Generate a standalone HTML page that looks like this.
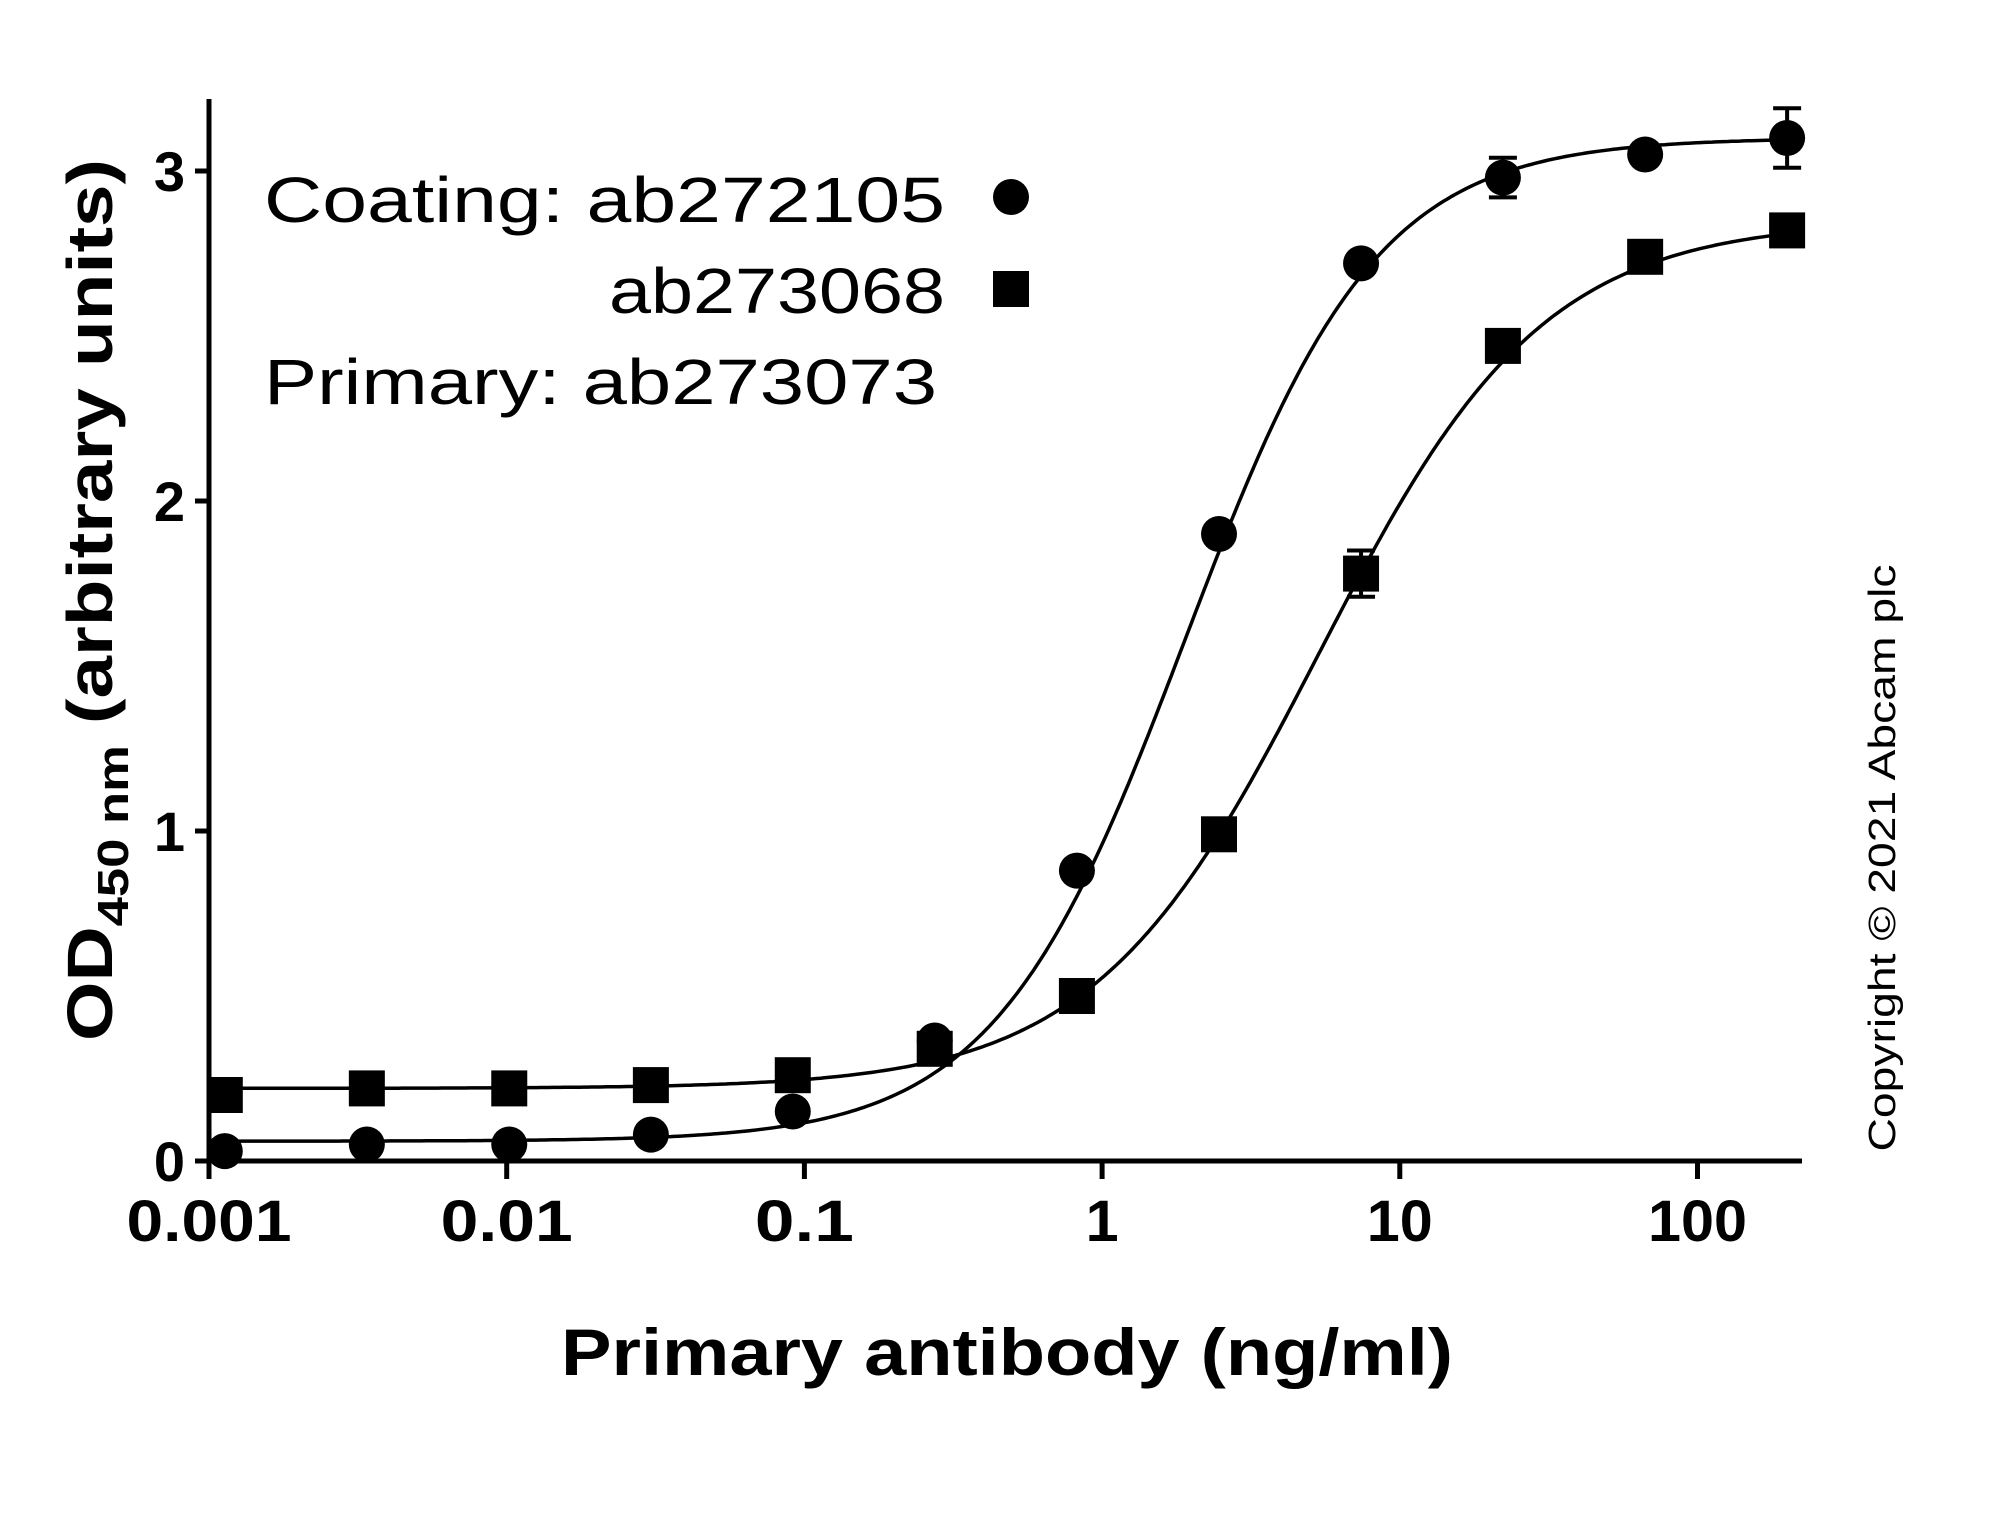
<!DOCTYPE html>
<html><head><meta charset="utf-8"><style>
html,body{margin:0;padding:0;background:#fff;}
svg{display:block;font-family:"Liberation Sans",sans-serif;}
</style></head><body>
<svg id="chart" width="1990" height="1514" viewBox="0 0 1990 1514" xmlns="http://www.w3.org/2000/svg">
<g id="axes"></g>
<g id="curves"></g>
<g id="marks"></g>
<text x="1007" y="1375" font-size="66" font-weight="bold" text-anchor="middle" textLength="892" lengthAdjust="spacingAndGlyphs">Primary antibody (ng/ml)</text>
<text transform="translate(112,600) rotate(-90)" font-size="64" font-weight="bold" text-anchor="middle" textLength="882" lengthAdjust="spacingAndGlyphs">OD<tspan font-size="44" dy="16">450 nm</tspan><tspan dy="-16"> (arbitrary units)</tspan></text>
<text transform="translate(1895,858) rotate(-90)" font-size="38" text-anchor="middle" textLength="587" lengthAdjust="spacingAndGlyphs">Copyright © 2021 Abcam plc</text>
<g>
<text x="264" y="222" font-size="64" textLength="681" lengthAdjust="spacingAndGlyphs">Coating: ab272105</text>
<circle cx="1011" cy="197" r="18" fill="#000"/>
<text x="609" y="313" font-size="64" textLength="336" lengthAdjust="spacingAndGlyphs">ab273068</text>
<rect x="993" y="271" width="36" height="36" fill="#000"/>
<text x="264" y="404" font-size="64" textLength="673" lengthAdjust="spacingAndGlyphs">Primary:  ab273073</text>
</g>
</svg>
<script>
const concentrations=[0.00113,0.00339,0.0102,0.0305,0.0914,0.274,0.823,2.47,7.41,22.2,66.7,200];
const circleValues=[0.03,0.05,0.05,0.08,0.15,0.365,0.88,1.9,2.72,2.98,3.05,3.1];
const squareValues=[0.2,0.22,0.22,0.23,0.26,0.34,0.5,0.99,1.78,2.47,2.74,2.82];
const circleErrors=[0,0,0,0,0,0,0,0,0,0.06,0,0.09];
const squareErrors=[0,0,0,0,0,0,0,0,0.07,0,0,0];
const circleFit=[0.06,3.1,1.9,1.35];
const squareFit=[0.22,2.85,5.33,1.15];
const xTicks=[0.001,0.01,0.1,1,10,100];
const xTickLabels=["0.001","0.01","0.1","1","10","100"];
const yTicks=[0,1,2,3];
const yTickLabels=["0","1","2","3"];
const NS="http://www.w3.org/2000/svg";
const X0=209,DEC=297.7,Y0=1161,UNIT=330,XEND=1802,YTOP=99;
function xs(v){return X0+(Math.log10(v)+3)*DEC;}
function ys(v){return Y0-v*UNIT;}
function mk(t,a,p){const e=document.createElementNS(NS,t);for(const k in a)e.setAttribute(k,a[k]);p.appendChild(e);return e;}
const axes=document.getElementById('axes');
let l=mk('line',{x1:X0,y1:YTOP,x2:X0,y2:Y0+18,stroke:'#000','stroke-width':5},axes);


l=mk('line',{x1:X0,y1:Y0,x2:XEND,y2:Y0,stroke:'#000','stroke-width':5},axes);


xTicks.forEach((t,i)=>{
 const x=xs(t);
 const tk=mk('line',{x1:x,y1:Y0,x2:x,y2:Y0+18,stroke:'#000','stroke-width':5},axes);
 
 
 const tx=mk('text',{x:x,y:Y0+80,'font-size':58,'font-weight':'bold','text-anchor':'middle'},axes);
 tx.textContent=xTickLabels[i];
 tx.setAttribute('textLength',xTickLabels[i].length*33);
 tx.setAttribute('lengthAdjust','spacingAndGlyphs');
 
 
});
yTicks.forEach((t,i)=>{
 const y=ys(t);
 const tk=mk('line',{x1:X0-14,y1:y,x2:X0,y2:y,stroke:'#000','stroke-width':5},axes);
 
 
 const tx=mk('text',{x:X0-24,y:y+20,'font-size':56,'font-weight':'bold','text-anchor':'end'},axes);
 tx.textContent=yTickLabels[i];
 
 
});
const curves=document.getElementById('curves');
function fitPath(p,name){
 let d='';
 for(let k=0;k<=400;k++){const lx=-3+k*(Math.log10(200)+3)/400;const c=Math.pow(10,lx);
  const v=p[0]+(p[1]-p[0])/(1+Math.pow(p[2]/c,p[3]));d+=(k?'L':'M')+xs(c).toFixed(1)+','+ys(v).toFixed(1);}
 const e=mk('path',{d:d,fill:'none',stroke:'#000','stroke-width':3.5},curves);
 
 
}
fitPath(circleFit,'ab272105-fit-curve');
fitPath(squareFit,'ab273068-fit-curve');
const marks=document.getElementById('marks');
function errBar(x,v,e){if(!e)return;const g=mk('path',{d:`M${x},${ys(v+e)}V${ys(v-e)}M${x-14},${ys(v+e)}H${x+14}M${x-14},${ys(v-e)}H${x+14}`,stroke:'#000','stroke-width':4,fill:'none'},marks);
 
 }
concentrations.forEach((c,i)=>{
 const x=xs(c);
 errBar(x,squareValues[i],squareErrors[i]);
 const s=mk('rect',{x:x-18,y:ys(squareValues[i])-18,width:36,height:36,fill:'#000'},marks);
 
 
 errBar(x,circleValues[i],circleErrors[i]);
 const ci=mk('circle',{cx:x,cy:ys(circleValues[i]),r:18,fill:'#000'},marks);
 
 
});
</script>
</body></html>
